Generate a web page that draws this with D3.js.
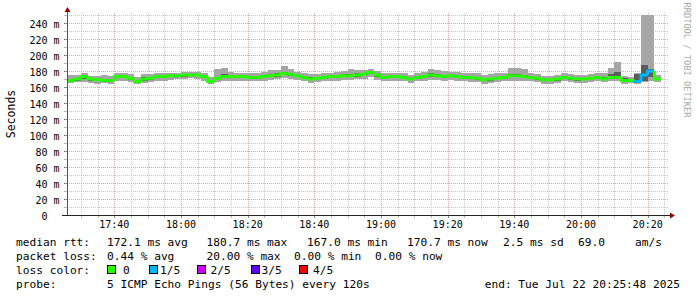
<!DOCTYPE html>
<html>
<head>
<meta charset="utf-8">
<script src="https://cdnjs.cloudflare.com/ajax/libs/d3/7.8.5/d3.min.js"></script>
<style>
	body { margin: 0; background: #fff; }
	svg text { font-family: "DejaVu Sans Mono", monospace; white-space: pre; fill: #000; }
</style>
</head>
<body>
<div id="chart"></div>
<script>
// smokeping style graph, 3 hours of 2 minute buckets (5 pings each)

var startTime = new Date(2025, 6, 22, 17, 25, 48),
	endTime = new Date(2025, 6, 22, 20, 25, 48),
	firstBucket = new Date(2025, 6, 22, 17, 26, 0),
	stepSec = 120;

// median rtt per bucket (ms)
var median = [168,170,173,170,169,168,168,173,173,171,167,170,171,173,173,174,174,175,175,175,173,167,171,173,173,173,
	173,172,172,173,174,175,177,176,174,172,170,171,172,173,173,174,174,175,176,178,175,172,173,173,172,170,172,173,175,174,
	173,174,173,172,172,171,169,170,171,172,174,174,173,172,171,169,169,170,172,171,170,170,171,172,
	170,172,172,168,168,167,175,180,170];

// fastest / slowest ping per bucket (outer smoke)
var pingMin = [165,166,166,165,164,165,164,167,168,166,164,165,166,168,168,169,170,170,171,170,168,164,166,167,168,168,
	168,167,167,168,169,170,171,170,169,167,165,166,167,168,168,169,169,170,170,172,169,167,168,168,167,165,167,168,169,169,
	168,169,168,167,166,166,164,165,166,167,168,168,168,167,166,164,164,165,167,166,165,165,166,167,
	166,167,167,164,165,164,166,168,166];
var pingMax = [175,175,177,174,174,175,174,177,178,176,172,176,176,177,178,178,178,179,179,179,178,173,182,184,179,178,
	178,177,177,179,181,181,186,183,179,177,176,176,177,178,179,180,182,181,181,182,180,177,178,178,177,175,177,179,182,181,
	180,179,179,178,177,177,175,176,177,178,184,184,183,177,176,174,174,175,177,176,175,175,176,177,
	178,184,191,174,172,177,260,260,175];

// 2nd and 4th ping per bucket (inner smoke)
var pingLo = [167,168,170,168,168,167,167,171,172,169,166,168,169,171,172,172,173,173,174,174,172,166,170,171,172,171,
	171,171,170,172,172,173,175,174,172,170,169,170,170,172,172,172,173,173,175,176,173,171,171,172,170,169,170,172,173,172,
	172,172,172,171,170,169,168,168,170,170,172,172,171,170,169,168,167,168,170,169,168,169,170,170,
	169,170,170,166,167,166,168,172,169];
var pingHi = [170,171,174,171,170,170,169,174,174,172,168,172,173,174,174,175,175,176,176,176,174,169,173,176,174,174,
	174,173,173,175,176,177,179,178,175,173,172,172,173,174,174,176,176,177,177,179,176,174,174,174,173,171,173,174,177,176,
	175,175,174,173,173,172,170,171,172,174,176,176,175,173,172,170,170,171,173,172,171,171,172,173,
	172,176,179,171,169,176,188,182,171];

// lost pings per bucket (out of 5)
var lost = [0,0,0,0,0,0,0,0,0,0,0,0,0,0,0,0,0,0,0,0,0,0,0,0,0,0,
	0,0,0,0,0,0,0,0,0,0,0,0,0,0,0,0,0,0,0,0,0,0,0,0,0,0,0,0,0,0,
	0,0,0,0,0,0,0,0,0,0,0,0,0,0,0,0,0,0,0,0,0,0,0,0,
	0,0,0,0,0,1,1,1,0];

var lossColors = ["#26ff00", "#00b8ff", "#c800ff", "#5e00ff", "#ff0000"],
	lossLabels = ["0", "1/5", "2/5", "3/5", "4/5"];

var statsRtt = ["median rtt:", "172.1 ms avg", "180.7 ms max", "167.0 ms min", "170.7 ms now", "2.5 ms sd", "69.0", "am/s"],
	statsLoss = ["packet loss:", "0.44 % avg", "20.00 % max", "0.00 % min", "0.00 % now"],
	probeText = ["probe:", "5 ICMP Echo Pings (56 Bytes) every 120s", "end: Tue Jul 22 20:25:48 2025"];

var width = 697,
	height = 297,
	plot = {left: 67, right: 667, top: 15, bottom: 215};

var svg = d3.select("#chart")
	.append("svg")
	.attr("width", width)
	.attr("height", height);

svg.append("rect")
	.attr("width", width)
	.attr("height", height)
	.attr("fill", "#fff");

var x = d3.scaleTime()
	.domain([startTime, endTime])
	.range([plot.left, plot.right]);

var y = d3.scaleLinear()
	.domain([0, 250])
	.range([plot.bottom, plot.top])
	.clamp(true);

var data = median.map(function (m, i) {
	var t0 = new Date(firstBucket.getTime() + i * stepSec * 1000);
	return {
		t0: t0,
		t1: new Date(t0.getTime() + stepSec * 1000),
		median: m,
		min: pingMin[i],
		max: pingMax[i],
		lo: pingLo[i],
		hi: pingHi[i],
		lost: lost[i]
	};
});

// grid
var grid = svg.append("g")
	.attr("shape-rendering", "crispEdges")
	.attr("stroke-dasharray", "1,1");

var minorY = d3.range(0, 251, 10).filter(function (v) { return v % 20 !== 0; }),
	majorY = d3.range(0, 251, 20);

grid.selectAll(".hminor")
	.data(minorY)
	.enter()
	.append("line")
	.attr("x1", plot.left).attr("x2", plot.right + 2)
	.attr("y1", function (d) { return Math.round(y(d)) + 0.5; })
	.attr("y2", function (d) { return Math.round(y(d)) + 0.5; })
	.attr("stroke", "#c8c8c8");

var minorX = x.ticks(d3.timeMinute.every(5)).filter(function (d) { return d.getMinutes() % 20 !== 0; }),
	majorX = x.ticks(d3.timeMinute.every(20));

grid.selectAll(".vminor")
	.data(minorX)
	.enter()
	.append("line")
	.attr("x1", function (d) { return Math.round(x(d)) + 0.5; })
	.attr("x2", function (d) { return Math.round(x(d)) + 0.5; })
	.attr("y1", plot.top - 2).attr("y2", plot.bottom)
	.attr("stroke", "#c8c8c8");

grid.selectAll(".hmajor")
	.data(majorY)
	.enter()
	.append("line")
	.attr("x1", plot.left).attr("x2", plot.right + 2)
	.attr("y1", function (d) { return Math.round(y(d)) + 0.5; })
	.attr("y2", function (d) { return Math.round(y(d)) + 0.5; })
	.attr("stroke", "#e0a4a4");

grid.selectAll(".vmajor")
	.data(majorX)
	.enter()
	.append("line")
	.attr("x1", function (d) { return Math.round(x(d)) + 0.5; })
	.attr("x2", function (d) { return Math.round(x(d)) + 0.5; })
	.attr("y1", plot.top - 2).attr("y2", plot.bottom)
	.attr("stroke", "#e0a4a4");

// smoke: outer band then inner band
var smoke = svg.append("g").attr("shape-rendering", "crispEdges");

smoke.selectAll(".outer")
	.data(data)
	.enter()
	.append("rect")
	.attr("x", function (d) { return x(d.t0); })
	.attr("width", function (d) { return x(d.t1) - x(d.t0); })
	.attr("y", function (d) { return y(d.max); })
	.attr("height", function (d) { return y(d.min) - y(d.max); })
	.attr("fill", "#a6a6a6");

smoke.selectAll(".inner")
	.data(data)
	.enter()
	.append("rect")
	.attr("x", function (d) { return x(d.t0); })
	.attr("width", function (d) { return x(d.t1) - x(d.t0); })
	.attr("y", function (d) { return y(d.hi); })
	.attr("height", function (d) { return y(d.lo) - y(d.hi); })
	.attr("fill", "#5c5c5c");

// median, coloured by loss
svg.append("g")
	.selectAll("path")
	.data(data)
	.enter()
	.append("path")
	.attr("d", function (d, i) {
		var p = d3.path(),
			prev = i > 0 ? data[i - 1].median : d.median;
		p.moveTo(x(d.t0), y(prev));
		p.lineTo(x(d.t0), y(d.median));
		p.lineTo(x(d.t1), y(d.median));
		return p.toString();
	})
	.attr("fill", "none")
	.attr("stroke", function (d) { return lossColors[d.lost]; })
	.attr("stroke-width", 3);

// axes
var axes = svg.append("g").attr("shape-rendering", "crispEdges");

axes.selectAll(".ytick")
	.data(d3.range(0, 251, 10))
	.enter()
	.append("line")
	.attr("x1", plot.left - 3).attr("x2", plot.left)
	.attr("y1", function (d) { return Math.round(y(d)) + 0.5; })
	.attr("y2", function (d) { return Math.round(y(d)) + 0.5; })
	.attr("stroke", function (d) { return d % 20 === 0 ? "#888" : "#bbb"; });

axes.selectAll(".xtick")
	.data(x.ticks(d3.timeMinute.every(5)))
	.enter()
	.append("line")
	.attr("x1", function (d) { return Math.round(x(d)) + 0.5; })
	.attr("x2", function (d) { return Math.round(x(d)) + 0.5; })
	.attr("y1", plot.bottom).attr("y2", plot.bottom + 3)
	.attr("stroke", function (d) { return d.getMinutes() % 20 === 0 ? "#888" : "#bbb"; });

axes.append("line")
	.attr("x1", plot.left + 0.5).attr("x2", plot.left + 0.5)
	.attr("y1", plot.bottom + 1).attr("y2", plot.top - 5)
	.attr("stroke", "#555");

axes.append("line")
	.attr("x1", plot.left - 5).attr("x2", plot.right + 4)
	.attr("y1", plot.bottom + 0.5).attr("y2", plot.bottom + 0.5)
	.attr("stroke", "#222");

svg.append("path")
	.attr("d", "M" + (plot.left - 2.5) + "," + (plot.top - 3) + "L" + (plot.left + 0.5) + "," + (plot.top - 8) + "L" + (plot.left + 3.5) + "," + (plot.top - 3) + "Z")
	.attr("fill", "#8b0000");

svg.append("path")
	.attr("d", "M" + (plot.right + 3) + "," + (plot.bottom - 2.5) + "L" + (plot.right + 8) + "," + (plot.bottom + 0.5) + "L" + (plot.right + 3) + "," + (plot.bottom + 3.5) + "Z")
	.attr("fill", "#8b0000");

// axis labels
svg.append("g")
	.selectAll("text")
	.data(majorY.filter(function (d) { return d <= 240; }))
	.enter()
	.append("text")
	.attr("x", 59.5)
	.attr("y", function (d) { return y(d) + 4.5; })
	.attr("text-anchor", "end")
	.style("font-size", "10px")
	.text(function (d) { return d === 0 ? "0  " : d + " m"; });

svg.append("g")
	.selectAll("text")
	.data(majorX)
	.enter()
	.append("text")
	.attr("x", function (d) { return x(d); })
	.attr("y", 228)
	.attr("text-anchor", "middle")
	.style("font-size", "10px")
	.text(d3.timeFormat("%H:%M"));

svg.append("text")
	.attr("transform", "translate(14.5,114) rotate(-90)")
	.attr("text-anchor", "middle")
	.style("font-size", "11.5px")
	.text("Seconds");

svg.append("text")
	.attr("transform", "translate(684,60) rotate(90)")
	.attr("text-anchor", "middle")
	.style("font-size", "8.7px")
	.style("fill", "#aaa")
	.text("RRDTOOL / TOBI OETIKER");

// legend
var legend = svg.append("g").style("font-size", "11.2px");
var rttX = [16, 107, 206.5, 307, 407, 503, 578, 635],
	lossX = [16, 107, 206.5, 294, 375],
	probeX = [16, 107];

function legendLine(strings, xs, baseline) {
	legend.append("g")
		.selectAll("text")
		.data(strings)
		.enter()
		.append("text")
		.attr("x", function (d, i) { return xs[i]; })
		.attr("y", baseline)
		.text(function (d) { return d; });
}

legendLine(statsRtt, rttX, 245.5);
legendLine(statsLoss, lossX, 259.5);
legendLine(["loss color:"], [16], 273.5);
legendLine(probeText.slice(0, 2), probeX, 287.5);

legend.append("text")
	.attr("x", 680)
	.attr("y", 287.5)
	.attr("text-anchor", "end")
	.text(probeText[2]);

var boxX = [107, 148.5, 196.5, 250.5, 299],
	boxLabelX = [123, 160, 210.5, 261.5, 313];

legend.append("g")
	.selectAll("rect")
	.data(lossColors)
	.enter()
	.append("rect")
	.attr("x", function (d, i) { return boxX[i] + 0.5; })
	.attr("y", 265.5)
	.attr("width", 8)
	.attr("height", 8)
	.attr("fill", function (d) { return d; })
	.attr("stroke", "#000")
	.attr("shape-rendering", "crispEdges");

legendLine(lossLabels, boxLabelX, 273.5);
</script>
</body>
</html>
